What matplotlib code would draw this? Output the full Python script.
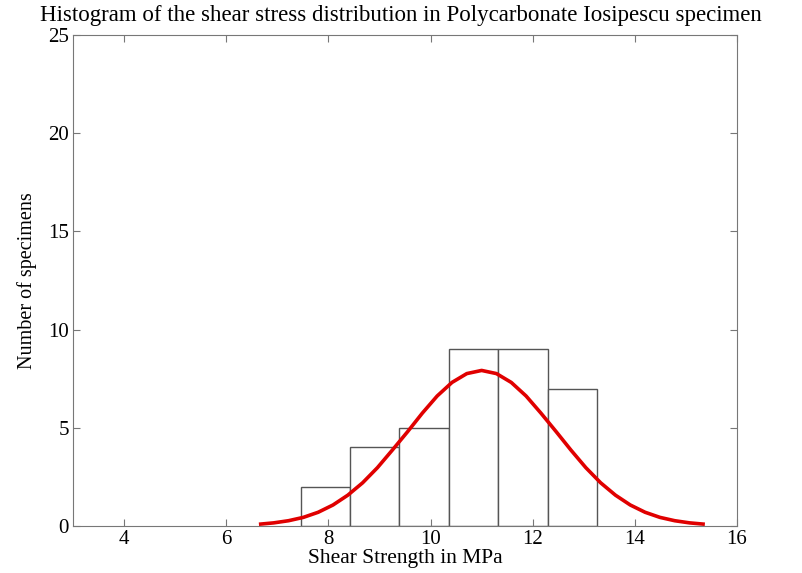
import matplotlib
matplotlib.use('Agg')
import matplotlib.pyplot as plt

# histogram bins (MPa)
bin_edges = [7.47, 8.42, 9.39, 10.36, 11.32, 12.29, 13.25]
counts = [2, 4, 5, 9, 9, 7]

# fitted normal curve
curve_x = [6.64, 6.93, 7.22, 7.51, 7.80, 8.09, 8.38, 8.67, 8.96, 9.25, 9.55,
           9.84, 10.13, 10.42, 10.71, 11.00, 11.29, 11.58, 11.87, 12.16, 12.46,
           12.75, 13.04, 13.33, 13.62, 13.91, 14.20, 14.49, 14.78, 15.07, 15.37]
curve_y = [0.09, 0.16, 0.27, 0.44, 0.70, 1.07, 1.57, 2.20, 2.97, 3.86, 4.80,
           5.75, 6.62, 7.31, 7.76, 7.92, 7.76, 7.31, 6.62, 5.75, 4.80,
           3.86, 2.97, 2.20, 1.57, 1.07, 0.70, 0.44, 0.27, 0.16, 0.09]

xticks = [4, 6, 8, 10, 12, 14, 16]
yticks = [0, 5, 10, 15, 20, 25]

plt.rcParams['font.family'] = ['Liberation Serif', 'DejaVu Serif']

fig = plt.figure(figsize=(8.02, 5.73), dpi=100)
ax = fig.add_axes([0.091, 0.082, 0.828, 0.857])

lefts = bin_edges[:-1]
widths = [b - a for a, b in zip(bin_edges[:-1], bin_edges[1:])]
ax.bar(lefts, counts, width=widths, align='edge', facecolor='white',
       edgecolor='#555555', linewidth=1.0)
ax.plot(curve_x, curve_y, color='#e00000', linewidth=2.6,
        solid_capstyle='butt')

ax.set_xlim(3, 16)
ax.set_ylim(0, 25)
ax.set_xticks(xticks)
ax.set_yticks(yticks)
ax.tick_params(direction='in', top=True, right=True, length=5,
               color='#777777', labelsize=15, pad=3)
for s in ax.spines.values():
    s.set_color('#777777')

ax.set_xlabel('Shear Strength in MPa', fontsize=15.5, labelpad=0)
ax.set_ylabel('Number of specimens', fontsize=14.5, labelpad=8)
fig.text(0.5, 1 - 16 / 573,
         'Histogram of the shear stress distribution in Polycarbonate Iosipescu specimen',
         fontsize=16.5, ha='center', va='center')

fig.savefig('out.png', dpi=100)
